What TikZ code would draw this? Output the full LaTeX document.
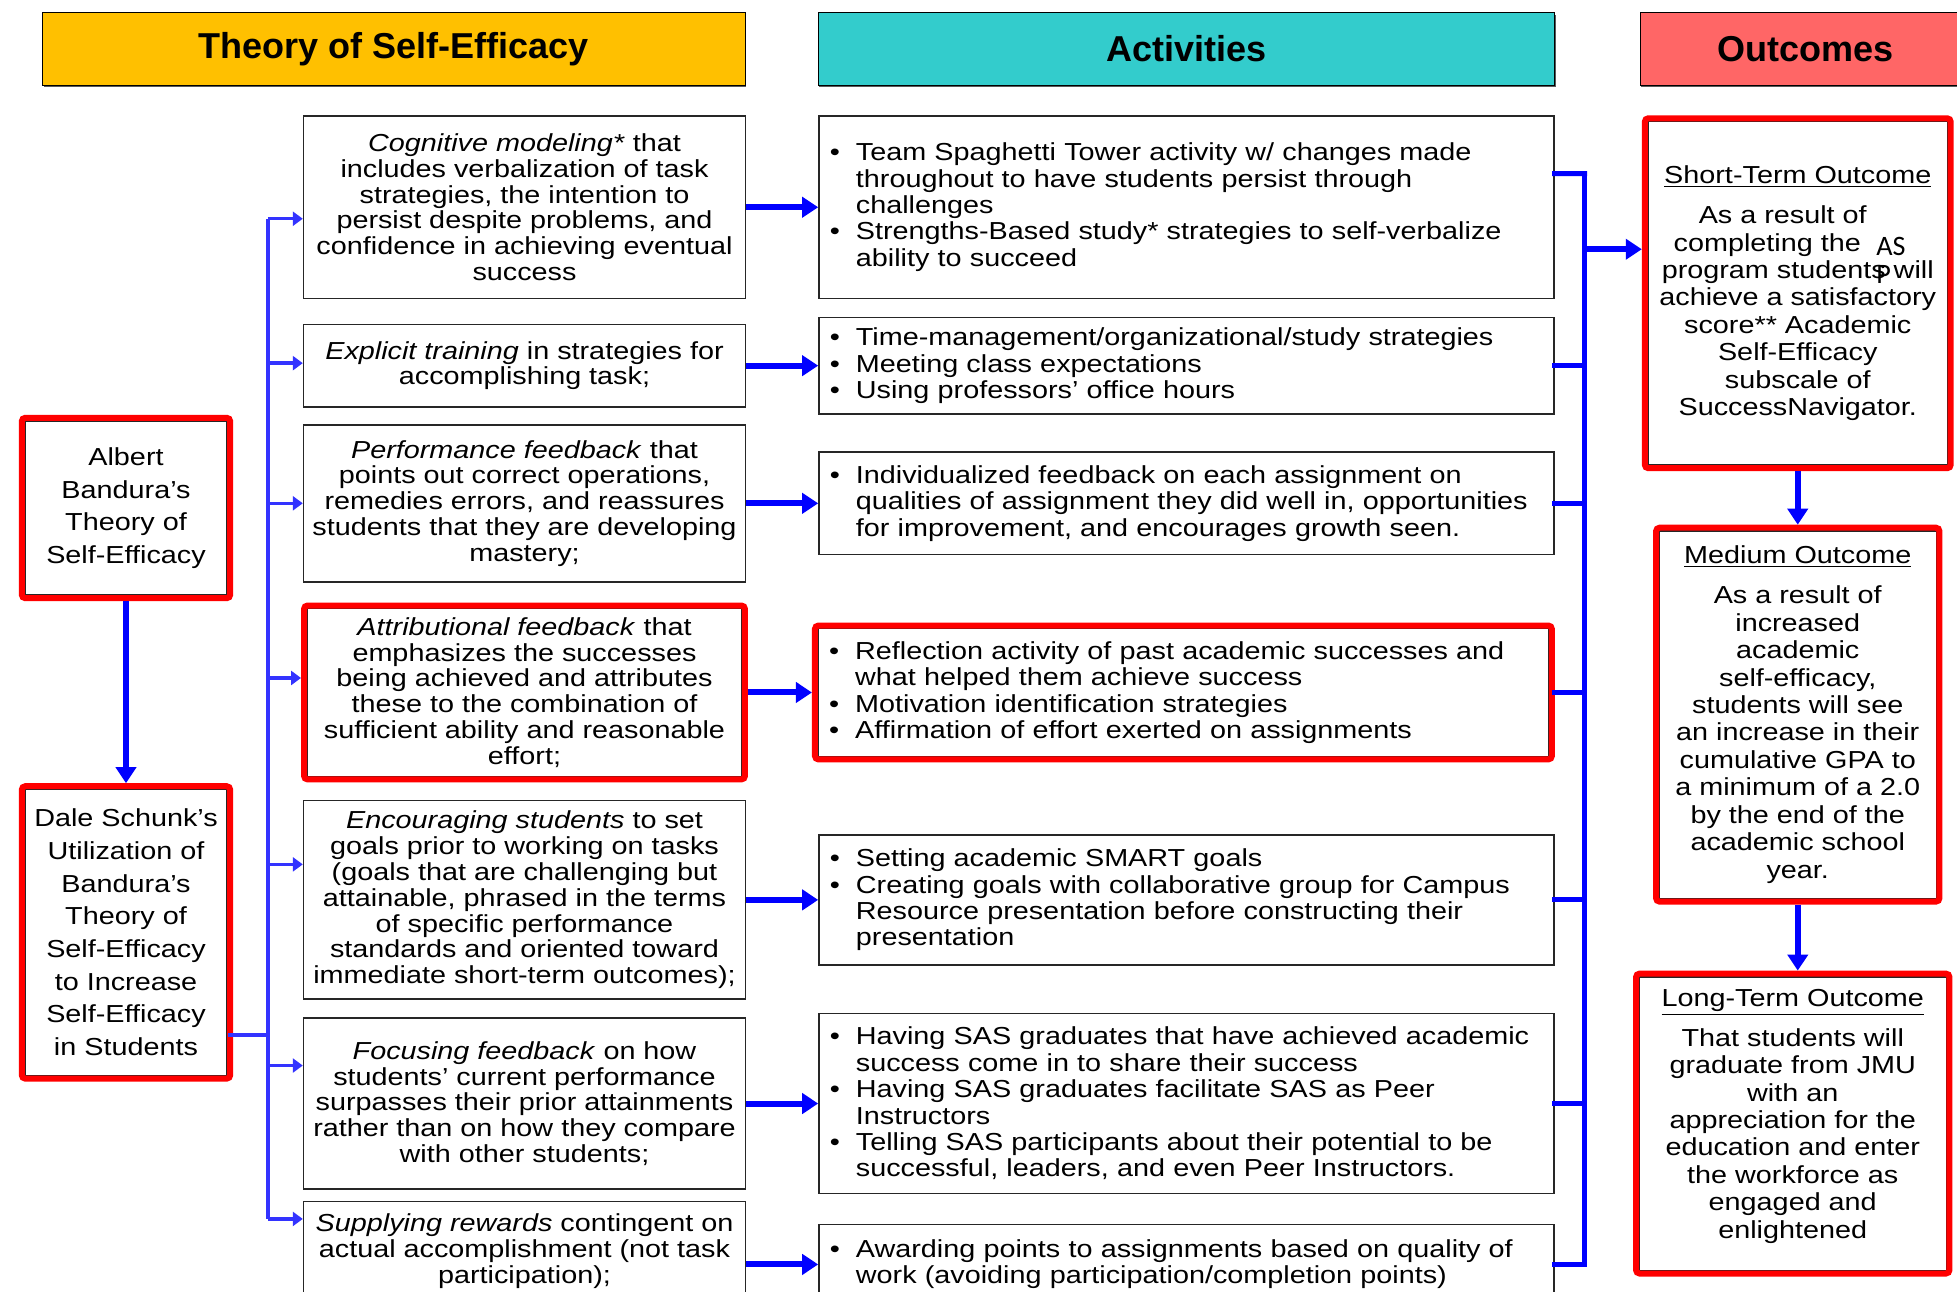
\documentclass[tikz,border=0pt]{standalone}
\usepackage{fontspec}
\setmainfont{Liberation Sans}[FakeStretch=1.17]
\newfontfamily\headfont{Liberation Sans}
\newfontfamily\overlayfont{Carlito}
\usepackage{tikz}
\usetikzlibrary{arrows.meta,positioning,fit,shadows}
\definecolor{headgold}{HTML}{FFC000}
\definecolor{headteal}{HTML}{33CCCC}
\definecolor{headrose}{HTML}{FF6666}
\definecolor{linkblue}{HTML}{0000FF}
\definecolor{busblue}{HTML}{3333FF}
\newcommand{\bul}{\makebox[0.52cm][l]{\textbullet}}
\newcommand{\ind}{\makebox[0.52cm]{}}

\begin{document}
\begin{tikzpicture}[
  head/.style={draw, minimum height=1.45cm, inner sep=0pt,
               font=\headfont\fontsize{20.5}{24}\selectfont\bfseries,
               drop shadow={shadow xshift=0.02cm,shadow yshift=-0.05cm,fill=black!65,opacity=1}},
  srcbox/.style={draw=black!85, line width=0.8pt, align=center, inner sep=0pt,
                 minimum width=4.04cm, font=\fontsize{14}{18.6}\selectfont},
  thbox/.style={draw=black!85, line width=0.8pt, align=center, inner sep=0pt,
                minimum width=8.84cm, font=\fontsize{14}{14.7}\selectfont},
  actbox/.style={draw=black!85, line width=0.8pt, align=left, inner xsep=0.22cm,
                 inner ysep=0pt, text width=14.26cm, font=\fontsize{14}{15}\selectfont},
  outbox/.style={draw=black!85, line width=0.8pt, align=center, inner sep=0pt,
                 font=\fontsize{14}{15.6}\selectfont},
  redframe/.style={draw=red, line width=0.12cm, rounded corners=2pt, inner sep=0.05cm},
  arr/.style={linkblue, line width=0.12cm, -{Triangle[length=0.32cm,width=0.4cm]}},
  thinarr/.style={busblue, line width=0.07cm, -{Triangle[length=0.2cm,width=0.28cm]}},
  busline/.style={linkblue, line width=0.1cm, line cap=rect},
  lbusline/.style={busblue, line width=0.07cm}]
  \useasboundingbox (0,0) rectangle (39.14,-25.84);
  \fill[white] (0,0) rectangle (39.14,-25.84);

  % column headers
  \node[head, fill=headgold, minimum width=14.05cm] (hdtheory) at (7.875,-0.975) {Theory of Self-Efficacy};
  \node[head, fill=headteal, minimum width=14.73cm, right=1.45cm of hdtheory] (hdact) {Activities};
  \node[head, fill=headrose, minimum width=6.64cm, right=1.69cm of hdact] (hdout) {Outcomes};

  % sources
  \node[srcbox, minimum height=3.48cm] (albert) at (2.52,-10.16)
    {Albert\\Bandura's\\Theory of\\Self-Efficacy};
  \node[srcbox, minimum height=5.72cm, below=3.86cm of albert] (dale)
    {Dale Schunk's\\Utilization of\\Bandura's\\Theory of\\Self-Efficacy\\to Increase\\Self-Efficacy\\in Students};

  % theory column
  \node[thbox, minimum height=3.65cm] (th1) at (10.49,-4.145)
    {\textit{Cognitive modeling*} that\\includes verbalization of task\\strategies, the intention to\\persist despite problems, and\\confidence in achieving eventual\\success};
  \node[thbox, minimum height=1.65cm, below=0.49cm of th1] (th2)
    {\textit{Explicit training} in strategies for\\accomplishing task;};
  \node[thbox, minimum height=3.14cm, below=0.33cm of th2] (th3)
    {\textit{Performance feedback} that\\points out correct operations,\\remedies errors, and reassures\\students that they are developing\\mastery;};
  \node[thbox, minimum width=8.69cm, minimum height=3.35cm, below=0.51cm of th3] (th4)
    {\textit{Attributional feedback} that\\emphasizes the successes\\being achieved and attributes\\these to the combination of\\sufficient ability and reasonable\\effort;};
  \node[thbox, minimum height=3.97cm, below=0.46cm of th4] (th5)
    {\textit{Encouraging students} to set\\goals prior to working on tasks\\(goals that are challenging but\\attainable, phrased in the terms\\of specific performance\\standards and oriented toward\\immediate short-term outcomes);};
  \node[thbox, minimum height=3.42cm, below=0.35cm of th5] (th6)
    {\textit{Focusing feedback} on how\\students' current performance\\surpasses their prior attainments\\rather than on how they compare\\with other students;};
  \node[thbox, minimum height=2.0cm, below=0.22cm of th6] (th7)
    {\textit{Supplying rewards} contingent on\\actual accomplishment (not task\\participation);};

  % activities column
  \node[actbox, minimum height=3.65cm, right=1.44cm of th1] (act1)
    {\bul Team Spaghetti Tower activity w/ changes made\\
     \ind throughout to have students persist through\\
     \ind challenges\\
     \bul Strengths-Based study* strategies to self-verbalize\\
     \ind ability to succeed};
  \node[actbox, minimum height=1.93cm, right=1.44cm of th2] (act2)
    {\bul Time-management/organizational/study strategies\\
     \bul Meeting class expectations\\
     \bul Using professors' office hours};
  \node[actbox, minimum height=2.05cm, right=1.44cm of th3] (act3)
    {\bul Individualized feedback on each assignment on\\
     \ind qualities of assignment they did well in, opportunities\\
     \ind for improvement, and encourages growth seen.};
  \node[actbox, text width=14.17cm, minimum height=2.55cm, right=1.50cm of th4] (act4)
    {\bul Reflection activity of past academic successes and\\
     \ind what helped them achieve success\\
     \bul Motivation identification strategies\\
     \bul Affirmation of effort exerted on assignments};
  \node[actbox, minimum height=2.60cm, right=1.44cm of th5] (act5)
    {\bul Setting academic SMART goals\\
     \bul Creating goals with collaborative group for Campus\\
     \ind Resource presentation before constructing their\\
     \ind presentation};
  \node[actbox, minimum height=3.60cm, right=1.44cm of th6] (act6)
    {\bul Having SAS graduates that have achieved academic\\
     \ind success come in to share their success\\
     \bul Having SAS graduates facilitate SAS as Peer\\
     \ind Instructors\\
     \bul Telling SAS participants about their potential to be\\
     \ind successful, leaders, and even Peer Instructors.};
  \node[actbox, minimum height=1.6cm, right=1.44cm of th7, yshift=-0.26cm] (act7)
    {\bul Awarding points to assignments based on quality of\\
     \ind work (avoiding participation/completion points)};

  % outcomes column
  \node[outbox, minimum width=5.99cm, minimum height=6.87cm] (stout) at (35.955,-5.865)
    {\underline{Short-Term Outcome}\\[0.25cm]
     As a result of\rule{0.6cm}{0pt}\\completing the\rule{1.22cm}{0pt}\\program students will\\achieve a satisfactory\\score** Academic\\Self-Efficacy\\subscale of\\SuccessNavigator.};
  \node[font=\overlayfont\fontsize{16}{15.6}\selectfont, align=left, anchor=base west,
        inner sep=0pt] (aspnote) at (37.52,-5.66) {AS\\P};
  \node[outbox, minimum width=5.54cm, minimum height=7.35cm, below=1.29cm of stout] (medout)
    {\underline{Medium Outcome}\\[0.25cm]
     As a result of\\increased\\academic\\self-efficacy,\\students will see\\an increase in their\\cumulative GPA to\\a minimum of a 2.0\\by the end of the\\academic school\\year.};
  \node[outbox, minimum width=6.14cm, minimum height=5.87cm, below=1.54cm of medout, xshift=-0.1cm] (longout)
    {\underline{Long-Term Outcome}\\[0.25cm]
     That students will\\graduate from JMU\\with an\\appreciation for the\\education and enter\\the workforce as\\engaged and\\enlightened\\[-0.15cm]};

  % red highlights
  \node[redframe, fit=(albert)] (albertR) {};
  \node[redframe, fit=(dale)] (daleR) {};
  \node[redframe, fit=(th4)] (th4R) {};
  \node[redframe, fit=(act4)] (act4R) {};
  \node[redframe, fit=(stout)] (stoutR) {};
  \node[redframe, fit=(medout)] (medoutR) {};
  \node[redframe, fit=(longout)] (longoutR) {};

  % left bus
  \draw[arr] (albertR.south) -- (daleR.north);
  \coordinate (ltop) at ([shift={(-0.70,-0.23)}]th1.west);
  \draw[lbusline] (ltop) -- ([yshift=0.65cm]th7.west -| ltop);
  \draw[lbusline] ([yshift=-2.05cm]dale.east) -- ([yshift=-2.05cm]dale.east -| ltop);
  \foreach \n/\dy in {th1/-0.23,th2/0.05,th3/0,th4R/0.29,th5/0.71,th6/0.76,th7/0.65}
    \draw[thinarr] ([yshift=\dy cm]\n.west -| ltop) -- ([yshift=\dy cm]\n.west);

  % theory -> activities
  \foreach \n in {1,2,3,5,6}
    \draw[arr] (th\n) -- (act\n);
  \draw[arr] (th4R) -- (act4R);
  \draw[arr] (th7.east |- act7.west) -- (act7.west);

  % right bus
  \coordinate (rtop) at ([shift={(0.60,0.67)}]act1.east);
  \draw[busline] ([yshift=0.67cm]act1.east) -- (rtop);
  \draw[busline] (rtop) -- (act7.east -| rtop);
  \foreach \n in {act2,act3,act4R,act5,act6,act7}
    \draw[busline] (\n.east) -- (\n.east -| rtop);
  \draw[arr] ([yshift=0.88cm]stout.west -| rtop) -- ([yshift=0.88cm]stoutR.west);

  % outcome chain
  \draw[arr] (stoutR.south) -- (stoutR.south |- medoutR.north);
  \draw[arr] (medoutR.south) -- (medoutR.south |- longoutR.north);
\end{tikzpicture}
\end{document}
